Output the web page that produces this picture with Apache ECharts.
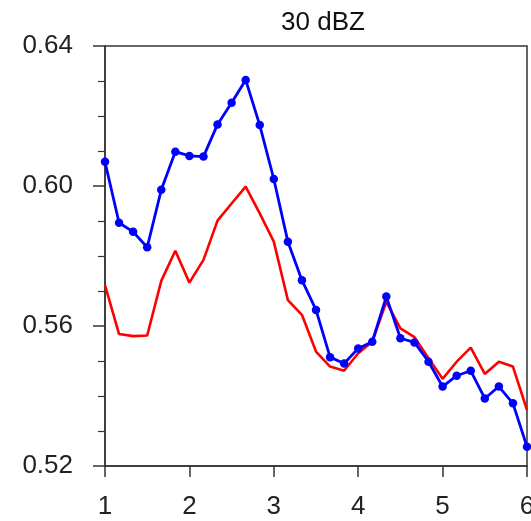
<!DOCTYPE html>
<html>
<head>
<meta charset="utf-8">
<script src="https://cdn.jsdelivr.net/npm/echarts@6/dist/echarts.min.js"></script>
<style>html,body{margin:0;padding:0;background:#fff;}#c{width:531px;height:521px;}</style>
</head>
<body>
<div id="c"></div>
<script>
var titleText = '30 dBZ';
var xs = [1, 1.1667, 1.3333, 1.5, 1.6667, 1.8333, 2, 2.1667, 2.3333, 2.5, 2.6667, 2.8333, 3, 3.1667, 3.3333, 3.5, 3.6667, 3.8333, 4, 4.1667, 4.3333, 4.5, 4.6667, 4.8333, 5, 5.1667, 5.3333, 5.5, 5.6667, 5.8333, 6];
var blueVals = [0.6069, 0.5895, 0.5869, 0.5825, 0.5989, 0.6098, 0.6086, 0.6084, 0.6176, 0.6238, 0.6303, 0.6174, 0.6020, 0.5841, 0.5731, 0.5646, 0.5511, 0.5493, 0.5536, 0.5555, 0.5684, 0.5565, 0.5553, 0.5498, 0.5427, 0.5458, 0.5472, 0.5393, 0.5427, 0.5379, 0.5255];
var redVals = [0.5717, 0.5577, 0.5571, 0.5573, 0.5729, 0.5815, 0.5724, 0.5789, 0.5901, 0.5950, 0.5998, 0.5922, 0.5841, 0.5674, 0.5632, 0.5527, 0.5484, 0.5472, 0.5522, 0.5555, 0.5669, 0.5593, 0.5568, 0.5508, 0.5449, 0.5498, 0.5538, 0.5463, 0.5498, 0.5484, 0.5360];
var yTicks = ['0.52', '0.56', '0.60', '0.64'];

function pairs(vals) { return xs.map(function (x, i) { return [x, vals[i]]; }); }

var font = 'Liberation Sans, Arial, Helvetica, sans-serif';
var chart = echarts.init(document.getElementById('c'), null, {renderer: 'canvas'});
chart.setOption({
  animation: false,
  backgroundColor: '#fff',
  title: {
    text: titleText, left: 318, top: 5, textAlign: 'center',
    textStyle: {fontFamily: font, fontSize: 26, fontWeight: 'normal', color: '#111'}
  },
  grid: {left: 105, right: 4, top: 46, bottom: 55, show: true, borderColor: '#333', borderWidth: 1.5,
    backgroundColor: 'transparent', containLabel: false, outerBoundsMode: 'none'},
  xAxis: {
    type: 'value', min: 1, max: 6, interval: 1,
    axisLine: {show: true, onZero: false, lineStyle: {color: '#333', width: 1.5}},
    axisTick: {show: true, inside: false, length: 11, lineStyle: {color: '#333', width: 1.5}},
    minorTick: {show: false},
    splitLine: {show: false},
    axisLabel: {margin: 28, fontFamily: font, fontSize: 26, color: '#222', alignMinLabel: 'center', alignMaxLabel: 'center',
      hideOverlap: false, formatter: function (v) { return String(v); }}
  },
  yAxis: {
    type: 'value', min: 0.52, max: 0.64, interval: 0.04,
    axisLine: {show: true, onZero: false, lineStyle: {color: '#333', width: 1.5}},
    axisTick: {show: true, inside: false, length: 12, lineStyle: {color: '#333', width: 1.5}},
    minorTick: {show: true, splitNumber: 4, length: 7, lineStyle: {color: '#333', width: 1.2}},
    splitLine: {show: false},
    axisLabel: {margin: 32, fontFamily: font, fontSize: 26, color: '#222',
      formatter: function (v) { var i = Math.round((v - 0.52) / 0.04); return yTicks[i] !== undefined ? yTicks[i] : ''; }}
  },
  series: [
    {type: 'line', data: pairs(redVals), showSymbol: false, symbol: 'none',
     lineStyle: {color: '#ff0000', width: 2.6}, itemStyle: {color: '#ff0000'}, z: 2},
    {type: 'line', data: pairs(blueVals), symbol: 'circle', symbolSize: 8.5,
     lineStyle: {color: '#0000ff', width: 2.8}, itemStyle: {color: '#0000ff'}, z: 3}
  ]
});
</script>
</body>
</html>
